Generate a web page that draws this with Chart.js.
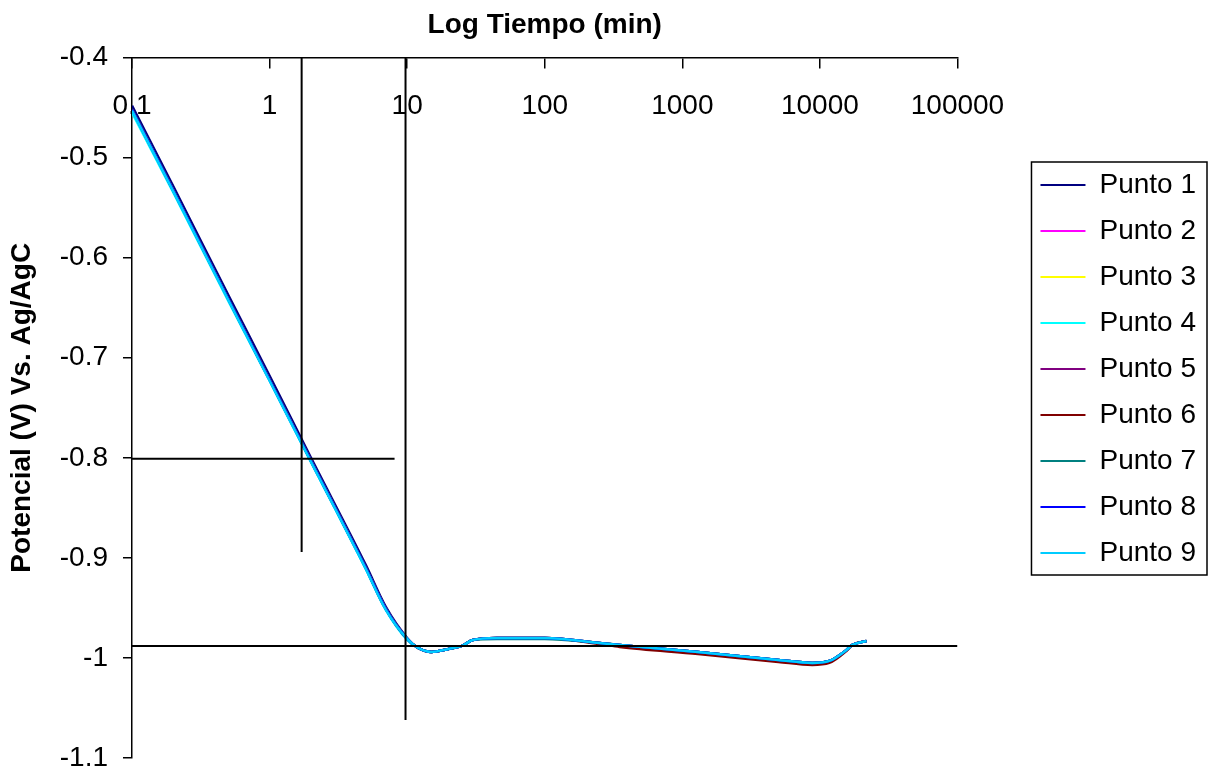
<!DOCTYPE html>
<html lang="es">
<head>
<meta charset="utf-8">
<title>Potencial vs Log Tiempo</title>
<script src="https://cdn.jsdelivr.net/npm/chart.js@4.4.1/dist/chart.umd.min.js"></script>
<style>
  html, body { margin: 0; padding: 0; background: #fff; }
  #wrap { width: 1213px; height: 776px; }
</style>
</head>
<body>
<div id="wrap"><canvas id="chart" width="1213" height="776"></canvas></div>
<script>
// Tiempo (min) y potencial (V)
const tiempo = [0.1, 0.2, 0.5, 1, 2, 5, 7, 10, 12, 15, 20, 25, 30, 45, 100, 250, 350, 1300, 5000, 8800, 11700, 15600, 17200, 21800];

const punto1 = [-0.448, -0.529, -0.637, -0.718, -0.800, -0.907, -0.949, -0.980, -0.990, -0.994, -0.991, -0.988, -0.982, -0.980, -0.980, -0.985, -0.987, -0.994, -1.002, -1.005, -1.003, -0.992, -0.987, -0.983];
const punto2 = [-0.452, -0.533, -0.641, -0.722, -0.803, -0.910, -0.951, -0.981, -0.990, -0.994, -0.991, -0.988, -0.982, -0.980, -0.980, -0.985, -0.987, -0.994, -1.002, -1.005, -1.003, -0.992, -0.987, -0.983];
const punto3 = [-0.452, -0.533, -0.641, -0.722, -0.803, -0.910, -0.951, -0.981, -0.990, -0.994, -0.991, -0.988, -0.982, -0.980, -0.980, -0.985, -0.987, -0.994, -1.002, -1.005, -1.003, -0.992, -0.987, -0.983];
const punto4 = [-0.455, -0.535, -0.643, -0.723, -0.804, -0.911, -0.952, -0.982, -0.990, -0.994, -0.991, -0.988, -0.982, -0.980, -0.980, -0.985, -0.987, -0.994, -1.002, -1.005, -1.003, -0.992, -0.987, -0.983];
const punto5 = [-0.452, -0.533, -0.641, -0.722, -0.803, -0.910, -0.951, -0.981, -0.990, -0.994, -0.991, -0.988, -0.982, -0.980, -0.980, -0.985, -0.987, -0.994, -1.002, -1.005, -1.003, -0.992, -0.987, -0.983];
const punto6 = [-0.452, -0.533, -0.641, -0.722, -0.803, -0.910, -0.951, -0.981, -0.990, -0.994, -0.991, -0.988, -0.982, -0.980, -0.980, -0.986, -0.989, -0.996, -1.004, -1.007, -1.005, -0.993, -0.987, -0.983];
const punto7 = [-0.452, -0.533, -0.641, -0.722, -0.803, -0.910, -0.951, -0.981, -0.990, -0.994, -0.991, -0.988, -0.982, -0.981, -0.981, -0.985, -0.987, -0.994, -1.002, -1.005, -1.003, -0.992, -0.987, -0.983];
const punto8 = [-0.452, -0.533, -0.641, -0.722, -0.803, -0.910, -0.951, -0.981, -0.990, -0.994, -0.991, -0.988, -0.982, -0.980, -0.980, -0.985, -0.987, -0.994, -1.002, -1.005, -1.003, -0.992, -0.987, -0.983];
const punto9 = [-0.453, -0.534, -0.642, -0.723, -0.804, -0.911, -0.952, -0.981, -0.990, -0.994, -0.991, -0.988, -0.982, -0.980, -0.980, -0.985, -0.987, -0.994, -1.002, -1.005, -1.003, -0.992, -0.987, -0.983];

const series = [punto1, punto2, punto3, punto4, punto5, punto6, punto7, punto8, punto9];
const nombres = ['Punto 1', 'Punto 2', 'Punto 3', 'Punto 4', 'Punto 5', 'Punto 6', 'Punto 7', 'Punto 8', 'Punto 9'];
const colores = ['#000080', '#FF00FF', '#FFFF00', '#00FFFF', '#800080', '#800000', '#008080', '#0000FF', '#00CCFF'];

// Lineas guia negras (x en min, y en V)
const guiaX1 = [1.71, 1.71],  guiaY1 = [-0.4, -0.894];
const guiaX2 = [0.1, 8.1],    guiaY2 = [-0.801, -0.801];
const guiaX3 = [9.73, 9.73],  guiaY3 = [-0.4, -1.062];
const guiaX4 = [0.1, 100000], guiaY4 = [-0.988, -0.988];

const marcasX = [0.1, 1, 10, 100, 1000, 10000, 100000];

const fuente = 'Liberation Sans, Arial, sans-serif';
Chart.defaults.font.family = fuente;
Chart.defaults.color = '#000';

const toPoints = (xs, ys) => xs.map((x, i) => ({ x: x, y: ys[i] }));

const datasets = series.map((vals, i) => ({
  label: nombres[i],
  data: toPoints(tiempo, vals),
  borderColor: colores[i],
  backgroundColor: colores[i],
  borderWidth: 2.5,
  pointRadius: 0,
  cubicInterpolationMode: 'monotone',
  order: 10 - i
}));

[[guiaX1, guiaY1], [guiaX2, guiaY2], [guiaX3, guiaY3], [guiaX4, guiaY4]].forEach(([xs, ys]) => {
  datasets.push({
    label: 'guia',
    data: toPoints(xs, ys),
    borderColor: '#000',
    backgroundColor: '#000',
    borderWidth: 2,
    pointRadius: 0,
    order: 0
  });
});

// Marco alrededor de la leyenda
const marcoLeyenda = {
  id: 'marcoLeyenda',
  afterDraw(chart) {
    const cajas = chart.legend && chart.legend.legendHitBoxes;
    if (!cajas || !cajas.length) return;
    const ctx = chart.ctx;
    const izq = cajas[0].left - 9;
    const der = Math.max(...cajas.map(c => c.left + c.width)) + 11;
    const ult = cajas[cajas.length - 1];
    const arr = cajas[0].top - 9;
    const abj = ult.top + ult.height + 8;
    ctx.save();
    ctx.strokeStyle = '#000';
    ctx.lineWidth = 1.5;
    ctx.strokeRect(izq, arr, der - izq, abj - arr);
    ctx.restore();
  }
};

new Chart(document.getElementById('chart').getContext('2d'), {
  type: 'line',
  data: { datasets: datasets },
  plugins: [marcoLeyenda],
  options: {
    responsive: false,
    animation: false,
    devicePixelRatio: 1,
    layout: { padding: { left: 0, right: 7, top: 0, bottom: 18 } },
    plugins: {
      title: {
        display: true,
        text: 'Log Tiempo (min)',
        fullSize: false,
        color: '#000',
        font: { size: 28, weight: 'bold' },
        padding: { top: 8, bottom: 16 }
      },
      legend: {
        position: 'right',
        align: 'start',
        title: { display: true, text: ' ', font: { size: 10 }, padding: { top: 141, bottom: 0 } },
        labels: {
          boxWidth: 45,
          boxHeight: 2,
          padding: 18,
          color: '#000',
          font: { size: 28 },
          filter: item => item.text.startsWith('Punto'),
          sort: (a, b) => a.datasetIndex - b.datasetIndex,
          generateLabels: chart => Chart.defaults.plugins.legend.labels.generateLabels(chart)
            .map(l => Object.assign(l, { lineWidth: 0, fillStyle: l.strokeStyle }))
        }
      },
      tooltip: { enabled: false }
    },
    scales: {
      x: {
        type: 'logarithmic',
        position: { y: -0.4 },
        min: 0.1,
        max: 100000,
        afterBuildTicks(scale) { scale.ticks = marcasX.map(v => ({ value: v })); },
        afterFit(scale) { scale.paddingTop = 0; scale.paddingBottom = 0; },
        ticks: {
          autoSkip: false,
          maxRotation: 0,
          color: '#000',
          font: { size: 28 },
          padding: 22,
          callback: v => String(v)
        },
        grid: { drawOnChartArea: false, tickLength: 10, color: '#000', lineWidth: 1.5 },
        border: { color: '#000', width: 1.5 }
      },
      y: {
        position: 'left',
        min: -1.1,
        max: -0.4,
        afterFit(scale) { scale.width = 132; scale.paddingBottom = 0; },
        ticks: {
          stepSize: 0.1,
          color: '#000',
          font: { size: 28 },
          padding: 15,
          callback: v => String(parseFloat(v.toFixed(1)))
        },
        grid: { drawOnChartArea: false, tickLength: 9, color: '#000', lineWidth: 1.5 },
        border: { color: '#000', width: 1.5 },
        title: {
          display: true,
          text: 'Potencial (V) Vs. Ag/AgC',
          color: '#000',
          font: { size: 28, weight: 'bold' },
          padding: { top: 5, bottom: 0 }
        }
      },
      yEspacio: {
        position: 'right',
        display: true,
        grid: { display: false },
        border: { display: false },
        ticks: { display: false },
        afterFit(scale) { scale.width = 65; }
      }
    }
  }
});
</script>
</body>
</html>
